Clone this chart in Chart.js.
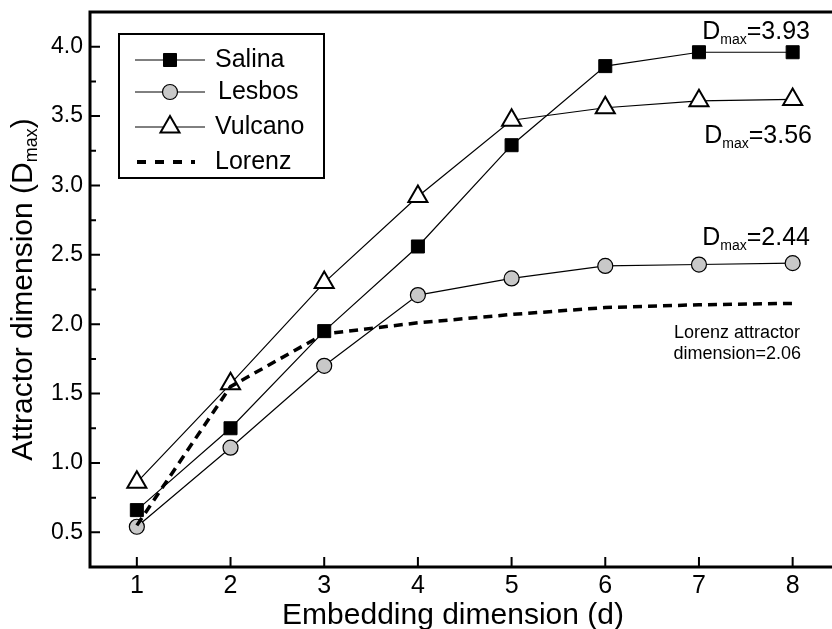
<!DOCTYPE html>
<html>
<head>
<meta charset="utf-8">
<script src="https://cdn.jsdelivr.net/npm/chart.js@4.4.1/dist/chart.umd.min.js"></script>
<style>
  html, body { margin: 0; padding: 0; background: #fff; }
  #wrap { width: 832px; height: 629px; position: relative; }
</style>
</head>
<body>
<div id="wrap"><canvas id="dimChart"></canvas></div>
<script>
// embedding dimension d
const dims = [1, 2, 3, 4, 5, 6, 7, 8];
// attractor dimension
const salina = [0.66, 1.25, 1.95, 2.56, 3.29, 3.86, 3.96, 3.96];
const lesbos = [0.54, 1.11, 1.70, 2.21, 2.33, 2.42, 2.43, 2.44];
const vulcano = [0.86, 1.57, 2.30, 2.92, 3.47, 3.56, 3.61, 3.62];
const lorenz = [0.55, 1.55, 1.93, 2.01, 2.07, 2.12, 2.14, 2.15];
const yTicks = [0.5, 1.0, 1.5, 2.0, 2.5, 3.0, 3.5, 4.0];
const yMinor = [0.75, 1.25, 1.75, 2.25, 2.75, 3.25, 3.75];

const FONT = '"Liberation Sans", Arial, sans-serif';

function pts(ys) {
    return dims.map((d, i) => ({ x: d, y: ys[i] }));
}

const seriesStyle = {
    Salina: { pointStyle: 'rect', pointRadius: 9.2, pointBackgroundColor: '#000', pointBorderColor: '#000', pointBorderWidth: 1 },
    Lesbos: { pointStyle: 'circle', pointRadius: 7.5, pointBackgroundColor: '#c8c8c8', pointBorderColor: '#000', pointBorderWidth: 1.2 },
    Vulcano: { pointStyle: 'triangle', pointRadius: 11, pointBackgroundColor: '#fff', pointBorderColor: '#000', pointBorderWidth: 2 }
};

// frame, inward ticks, legend, annotations and titles
const decor = {
    id: 'decor',
    afterDraw(chart) {
        const ctx = chart.ctx;
        const a = chart.chartArea;
        const xs = chart.scales.x, ys = chart.scales.y;
        ctx.save();
        ctx.strokeStyle = '#000';
        ctx.fillStyle = '#000';

        // axes frame: left, bottom, top
        ctx.lineWidth = 3;
        ctx.beginPath();
        ctx.moveTo(832, a.top);
        ctx.lineTo(a.left, a.top);
        ctx.lineTo(a.left, a.bottom);
        ctx.lineTo(832, a.bottom);
        ctx.stroke();

        ctx.lineWidth = 2;
        ctx.beginPath();
        yTicks.forEach(v => {
            const py = ys.getPixelForValue(v);
            ctx.moveTo(a.left, py); ctx.lineTo(a.left + 10, py);
        });
        yMinor.forEach(v => {
            const py = ys.getPixelForValue(v);
            ctx.moveTo(a.left, py); ctx.lineTo(a.left + 6, py);
        });
        dims.forEach(v => {
            const px = xs.getPixelForValue(v);
            ctx.moveTo(px, a.bottom); ctx.lineTo(px, a.bottom - 10);
        });
        ctx.stroke();

        // y title with subscript
        ctx.save();
        ctx.translate(24, (a.top + a.bottom) / 2);
        ctx.rotate(-Math.PI / 2);
        ctx.textBaseline = 'middle';
        ctx.textAlign = 'left';
        const t1 = 'Attractor dimension (D', t2 = 'max', t3 = ')';
        ctx.font = '30px ' + FONT;
        const w1 = ctx.measureText(t1).width, w3 = ctx.measureText(t3).width;
        ctx.font = '18px ' + FONT;
        const w2 = ctx.measureText(t2).width;
        let sx = -(w1 + w2 + w3) / 2;
        ctx.font = '30px ' + FONT;
        ctx.fillText(t1, sx, 0);
        ctx.font = '18px ' + FONT;
        ctx.fillText(t2, sx + w1, 8);
        ctx.font = '30px ' + FONT;
        ctx.fillText(t3, sx + w1 + w2, 0);
        ctx.restore();

        // x title
        ctx.font = '30px ' + FONT;
        ctx.textAlign = 'center';
        ctx.textBaseline = 'alphabetic';
        ctx.fillText('Embedding dimension (d)', 453, 624);

        // D_max labels
        function dmax(value, right, base) {
            ctx.textAlign = 'left';
            ctx.font = '25px ' + FONT;
            const wd = ctx.measureText('D').width;
            const wv = ctx.measureText('=' + value).width;
            ctx.font = '14px ' + FONT;
            const ws = ctx.measureText('max').width;
            let x0 = right - wd - ws - wv;
            ctx.font = '25px ' + FONT;
            ctx.fillText('D', x0, base);
            ctx.font = '14px ' + FONT;
            ctx.fillText('max', x0 + wd, base + 5);
            ctx.font = '25px ' + FONT;
            ctx.fillText('=' + value, x0 + wd + ws, base);
        }
        dmax('3.93', 810, 39);
        dmax('3.56', 812, 143);
        dmax('2.44', 810, 245);

        ctx.font = '18px ' + FONT;
        ctx.textAlign = 'right';
        ctx.fillText('Lorenz attractor', 800, 338);
        ctx.fillText('dimension=2.06', 801, 359);

        // legend box
        ctx.lineWidth = 2;
        ctx.strokeRect(119, 34, 205, 144);
        const rows = [['Salina', 60], ['Lesbos', 92], ['Vulcano', 127], ['Lorenz', 162]];
        rows.forEach(([name, y], i) => {
            ctx.lineWidth = 1;
            ctx.setLineDash([]);
            if (name === 'Lorenz') {
                ctx.lineWidth = 4;
                ctx.setLineDash([9, 9]);
                ctx.beginPath(); ctx.moveTo(137, y); ctx.lineTo(195, y); ctx.stroke();
                ctx.setLineDash([]);
            } else {
                ctx.beginPath(); ctx.moveTo(135, y); ctx.lineTo(205, y); ctx.stroke();
                const st = seriesStyle[name];
                ctx.fillStyle = st.pointBackgroundColor;
                ctx.strokeStyle = st.pointBorderColor;
                ctx.lineWidth = st.pointBorderWidth;
                Chart.helpers.drawPoint(ctx, { pointStyle: st.pointStyle, radius: st.pointRadius, borderWidth: st.pointBorderWidth, rotation: 0 }, 170, y);
                ctx.fillStyle = '#000';
                ctx.strokeStyle = '#000';
            }
            ctx.font = '25px ' + FONT;
            ctx.textAlign = 'left';
            ctx.textBaseline = 'middle';
            ctx.fillText(name, name === 'Lesbos' ? 218 : 215, y);
        });
        ctx.restore();
    }
};

const ctx = document.getElementById('dimChart').getContext('2d');
new Chart(ctx, {
    type: 'line',
    data: {
        datasets: [
            {
                label: 'Lorenz',
                data: pts(lorenz),
                borderColor: '#000',
                borderWidth: 3.5,
                borderDash: [9, 6],
                pointRadius: 0,
                tension: 0,
                fill: false
            },
            Object.assign({ label: 'Salina', data: pts(salina), borderColor: '#000', borderWidth: 1.2, tension: 0, fill: false }, seriesStyle.Salina),
            Object.assign({ label: 'Lesbos', data: pts(lesbos), borderColor: '#000', borderWidth: 1.2, tension: 0, fill: false }, seriesStyle.Lesbos),
            Object.assign({ label: 'Vulcano', data: pts(vulcano), borderColor: '#000', borderWidth: 1.2, tension: 0, fill: false }, seriesStyle.Vulcano)
        ]
    },
    options: {
        responsive: true,
        maintainAspectRatio: false,
        animation: false,
        layout: { autoPadding: false, padding: { top: 12, right: 0, left: 0, bottom: 0 } },
        scales: {
            x: {
                type: 'linear',
                min: 0.5,
                max: 8.42,
                afterBuildTicks: s => { s.ticks = dims.map(v => ({ value: v })); },
                afterFit: s => { s.height = 62; s.paddingLeft = 0; s.paddingRight = 0; },
                grid: { display: false, drawTicks: false },
                border: { display: false },
                ticks: {
                    color: '#000',
                    font: { family: FONT, size: 25 },
                    padding: 4,
                    maxRotation: 0,
                    callback: v => String(v)
                }
            },
            y: {
                min: 0.25,
                max: 4.25,
                afterBuildTicks: s => { s.ticks = yTicks.map(v => ({ value: v })); },
                afterFit: s => { s.width = 90; s.paddingTop = 0; s.paddingBottom = 0; },
                grid: { display: false, drawTicks: false },
                border: { display: false },
                ticks: {
                    color: '#000',
                    font: { family: FONT, size: 23 },
                    padding: 7,
                    callback: v => v.toFixed(1)
                }
            }
        },
        plugins: {
            legend: { display: false },
            tooltip: { enabled: false },
            title: { display: false }
        }
    },
    plugins: [decor]
});
</script>
</body>
</html>
